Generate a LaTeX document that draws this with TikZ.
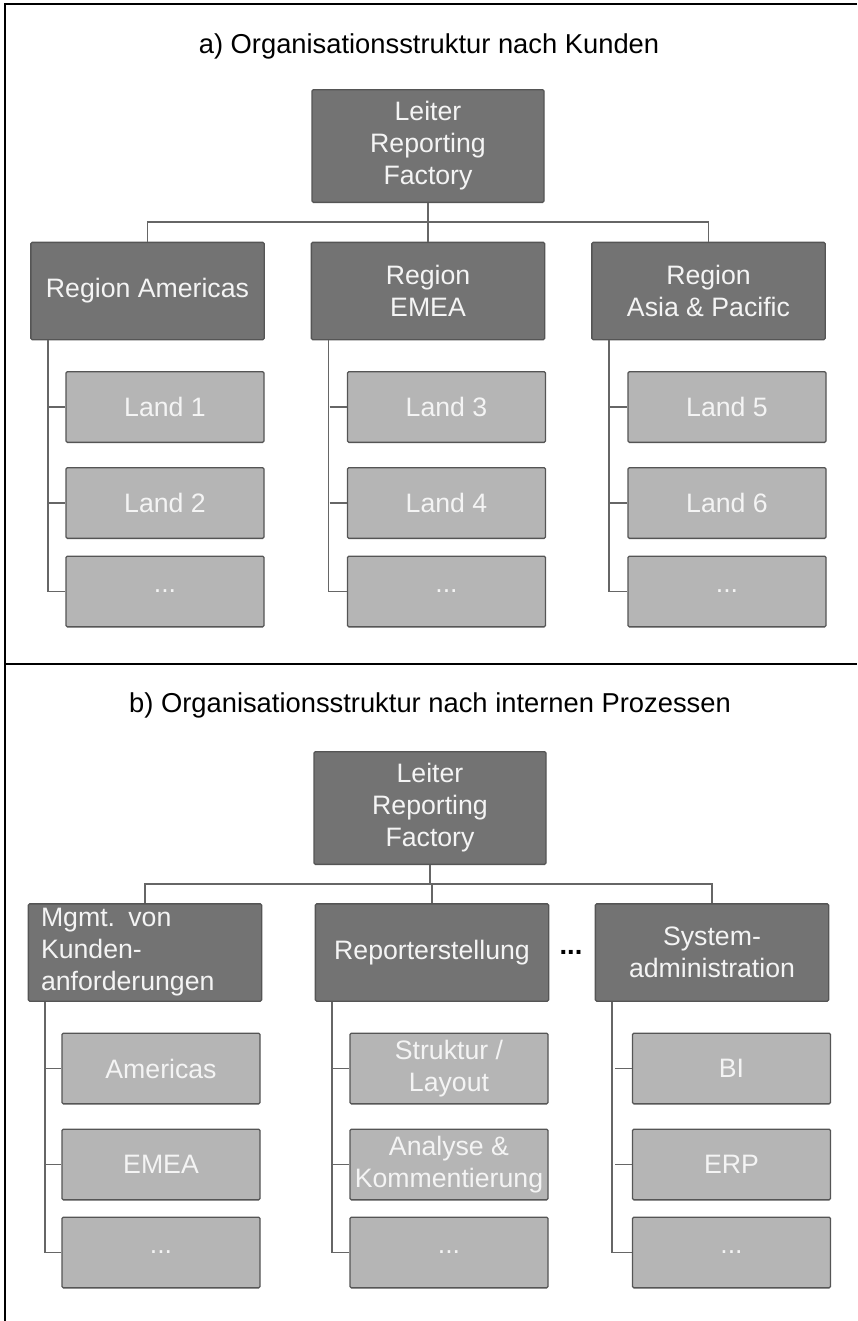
\documentclass[tikz,border=0pt]{standalone}
\usepackage{fontspec}
\setmainfont{Liberation Sans}
\usetikzlibrary{positioning}
\definecolor{darkbox}{HTML}{737373}
\definecolor{lightbox}{HTML}{B5B5B5}
\definecolor{edgegray}{HTML}{555555}
\definecolor{linegray}{HTML}{666666}
\definecolor{boxtext}{HTML}{F4F4F4}

\begin{document}
\begin{tikzpicture}[
    x=0.75pt, y=-0.75pt,
    orgbox/.style={rectangle, draw=edgegray, line width=1pt, rounded corners=1pt, align=center, text=boxtext, inner sep=0pt, font=\fontsize{20}{24}\selectfont},
    chief/.style={orgbox, fill=darkbox, minimum width=174pt, minimum height=84.5pt},
    region/.style={orgbox, fill=darkbox, minimum width=175pt, minimum height=73pt},
    country/.style={orgbox, fill=lightbox, minimum width=148.5pt, minimum height=53pt},
    heading/.style={font=\fontsize{20.5}{24}\selectfont},
    branch/.style={draw=linegray, line width=1.2pt},
    frame/.style={line width=2pt}
]
\useasboundingbox (0,0) rectangle (857,1321);

% Frame
\draw[frame] (857,4) -- (5,4) -- (5,1321);
\draw[frame] (5,664) -- (857,664);

% a) by customers
\node[heading] (ta) at (429,46) {a) Organisationsstruktur nach Kunden};
\node[chief] (ra) at (428,146) {Leiter\\Reporting\\Factory};
\node[region] (a1) at (147.5,291) {Region Americas};
\node[region] (a2) at (428,291) {Region\\EMEA};
\node[region] (a3) at (708.5,291) {Region\\Asia \& Pacific};
\coordinate (busa) at (428,222);

\draw[branch] (ra) -- (a2);
\draw[branch] (a1.north) |- (busa) -| (a3.north);

\foreach \p/\x/\ta/\tb in {a1/165/Land 1/Land 2, a2/446.5/Land 3/Land 4, a3/727/Land 5/Land 6} {
  \node[country] (\p1) at (\x,407) {\ta};
  \node[country] (\p2) at (\x,503) {\tb};
  \node[country] (\p3) at (\x,591.5) {...};
  \draw[branch] ([xshift=13.5pt]\p.south west) |- (\p3.west);
  \draw[branch] ([xshift=-13pt]\p1.west) -- (\p1.west);
  \draw[branch] ([xshift=-13pt]\p2.west) -- (\p2.west);
}

% b) by internal processes
\node[heading] (tb) at (430,705) {b) Organisationsstruktur nach internen Prozessen};
\node[chief] (rb) at (430,808) {Leiter\\Reporting\\Factory};
\node[region, align=left, text width=156pt] (b1) at (145,952.5) {Mgmt. von\\Kunden-\\anforderungen};
\node[region] (b2) at (432,952.5) {Reporterstellung};
\node[region] (b3) at (712,952.5) {System-\\administration};
\node[heading] (gap) at (571,952) {\textbf{...}};
\coordinate (busb) at (430,884);

\draw[branch] (rb) -- (busb);
\draw[branch] (b1.north) |- (busb) -| (b3.north);
\draw[branch] (busb -| b2.north) -- (b2.north);

\node[country] (b11) at (161,1068.5) {Americas};
\node[country] (b12) at (161,1164.5) {EMEA};
\node[country] (b13) at (161,1252.5) {...};
\node[country] (b21) at (449,1068.5) {Struktur /\\Layout};
\node[country] (b22) at (449,1164.5) {Analyse \&\\Kommentierung};
\node[country] (b23) at (449,1252.5) {...};
\node[country] (b31) at (731.5,1068.5) {BI};
\node[country] (b32) at (731.5,1164.5) {ERP};
\node[country] (b33) at (731.5,1252.5) {...};

\foreach \p in {b1,b2,b3} {
  \draw[branch] ([xshift=13pt]\p.south west) |- (\p3.west);
  \draw[branch] ([xshift=-12.5pt]\p1.west) -- (\p1.west);
  \draw[branch] ([xshift=-12.5pt]\p2.west) -- (\p2.west);
}
\end{tikzpicture}
\end{document}
